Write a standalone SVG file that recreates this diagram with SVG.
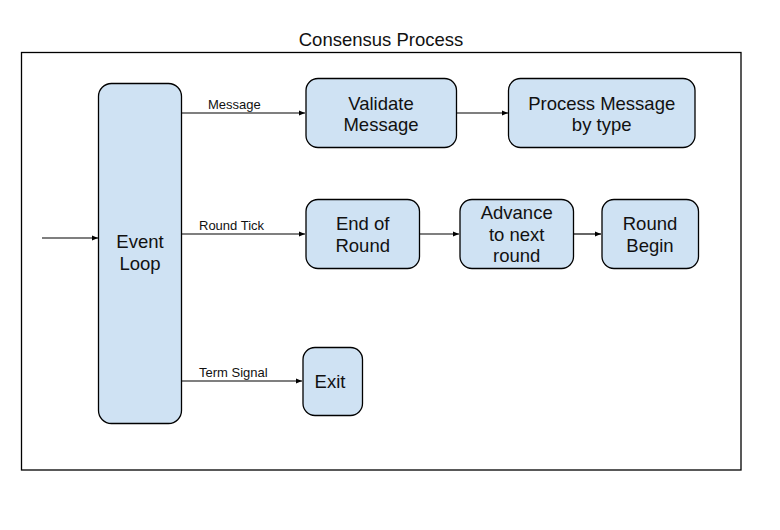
<svg xmlns="http://www.w3.org/2000/svg" width="780" height="530" viewBox="0 0 780 530">
<style>
.node{fill:#cfe2f3;stroke:#000;stroke-width:1.3}
.t{font-family:"Liberation Sans",Arial,sans-serif;font-size:18.5px;fill:#111;text-anchor:middle}
.lbl{font-family:"Liberation Sans",Arial,sans-serif;font-size:13px;fill:#111}
.c{fill:none;stroke:#000;stroke-width:1.2;marker-end:url(#ah)}
</style>
<defs>
<marker id="ah" viewBox="0 0 10 10" refX="10" refY="5" markerWidth="6" markerHeight="6" markerUnits="userSpaceOnUse" orient="auto">
<path d="M0,1 L10,5 L0,9 z" fill="#000"/>
</marker>
</defs>
<rect width="780" height="530" fill="#fff"/>
<g id="frame">
<rect x="21.5" y="52.5" width="719.5" height="417.5" fill="none" stroke="#000" stroke-width="1.3"/>
<text class="t" x="381" y="46">Consensus Process</text>
</g>
<g id="connectors">
<line class="c" x1="42" y1="238" x2="98" y2="238"/>
<line class="c" x1="182" y1="113" x2="305" y2="113"/>
<line class="c" x1="457" y1="113" x2="508" y2="113"/>
<line class="c" x1="182" y1="234" x2="305" y2="234"/>
<line class="c" x1="419" y1="234" x2="459" y2="234"/>
<line class="c" x1="573" y1="234" x2="601" y2="234"/>
<line class="c" x1="181" y1="381" x2="302" y2="381"/>
<text class="lbl" x="208" y="109">Message</text>
<text class="lbl" x="199" y="230">Round Tick</text>
<text class="lbl" x="199" y="377">Term Signal</text>
</g>
<g id="event-loop">
<rect class="node" x="98.5" y="83.5" width="83" height="340" rx="13"/>
<text class="t" x="140" y="248">Event</text>
<text class="t" x="140" y="270">Loop</text>
</g>
<g id="validate">
<rect class="node" x="306" y="78.5" width="150.5" height="69" rx="12"/>
<text class="t" x="381" y="110">Validate</text>
<text class="t" x="381" y="131">Message</text>
</g>
<g id="process">
<rect class="node" x="508.5" y="78.5" width="186.5" height="69" rx="12"/>
<text class="t" x="601.7" y="110">Process Message</text>
<text class="t" x="601.7" y="131">by type</text>
</g>
<g id="end-of-round">
<rect class="node" x="306" y="199.5" width="113.5" height="69" rx="12"/>
<text class="t" x="362.7" y="230">End of</text>
<text class="t" x="362.7" y="251.5">Round</text>
</g>
<g id="advance">
<rect class="node" x="460" y="199.5" width="113.5" height="69" rx="12"/>
<text class="t" x="516.7" y="219">Advance</text>
<text class="t" x="516.7" y="240.5">to next</text>
<text class="t" x="516.7" y="262">round</text>
</g>
<g id="round-begin">
<rect class="node" x="602" y="199.5" width="96.5" height="69" rx="12"/>
<text class="t" x="650" y="230">Round</text>
<text class="t" x="650" y="251.5">Begin</text>
</g>
<g id="exit">
<rect class="node" x="303" y="347.5" width="59.5" height="68" rx="12"/>
<text class="t" x="330" y="388">Exit</text>
</g>
</svg>
